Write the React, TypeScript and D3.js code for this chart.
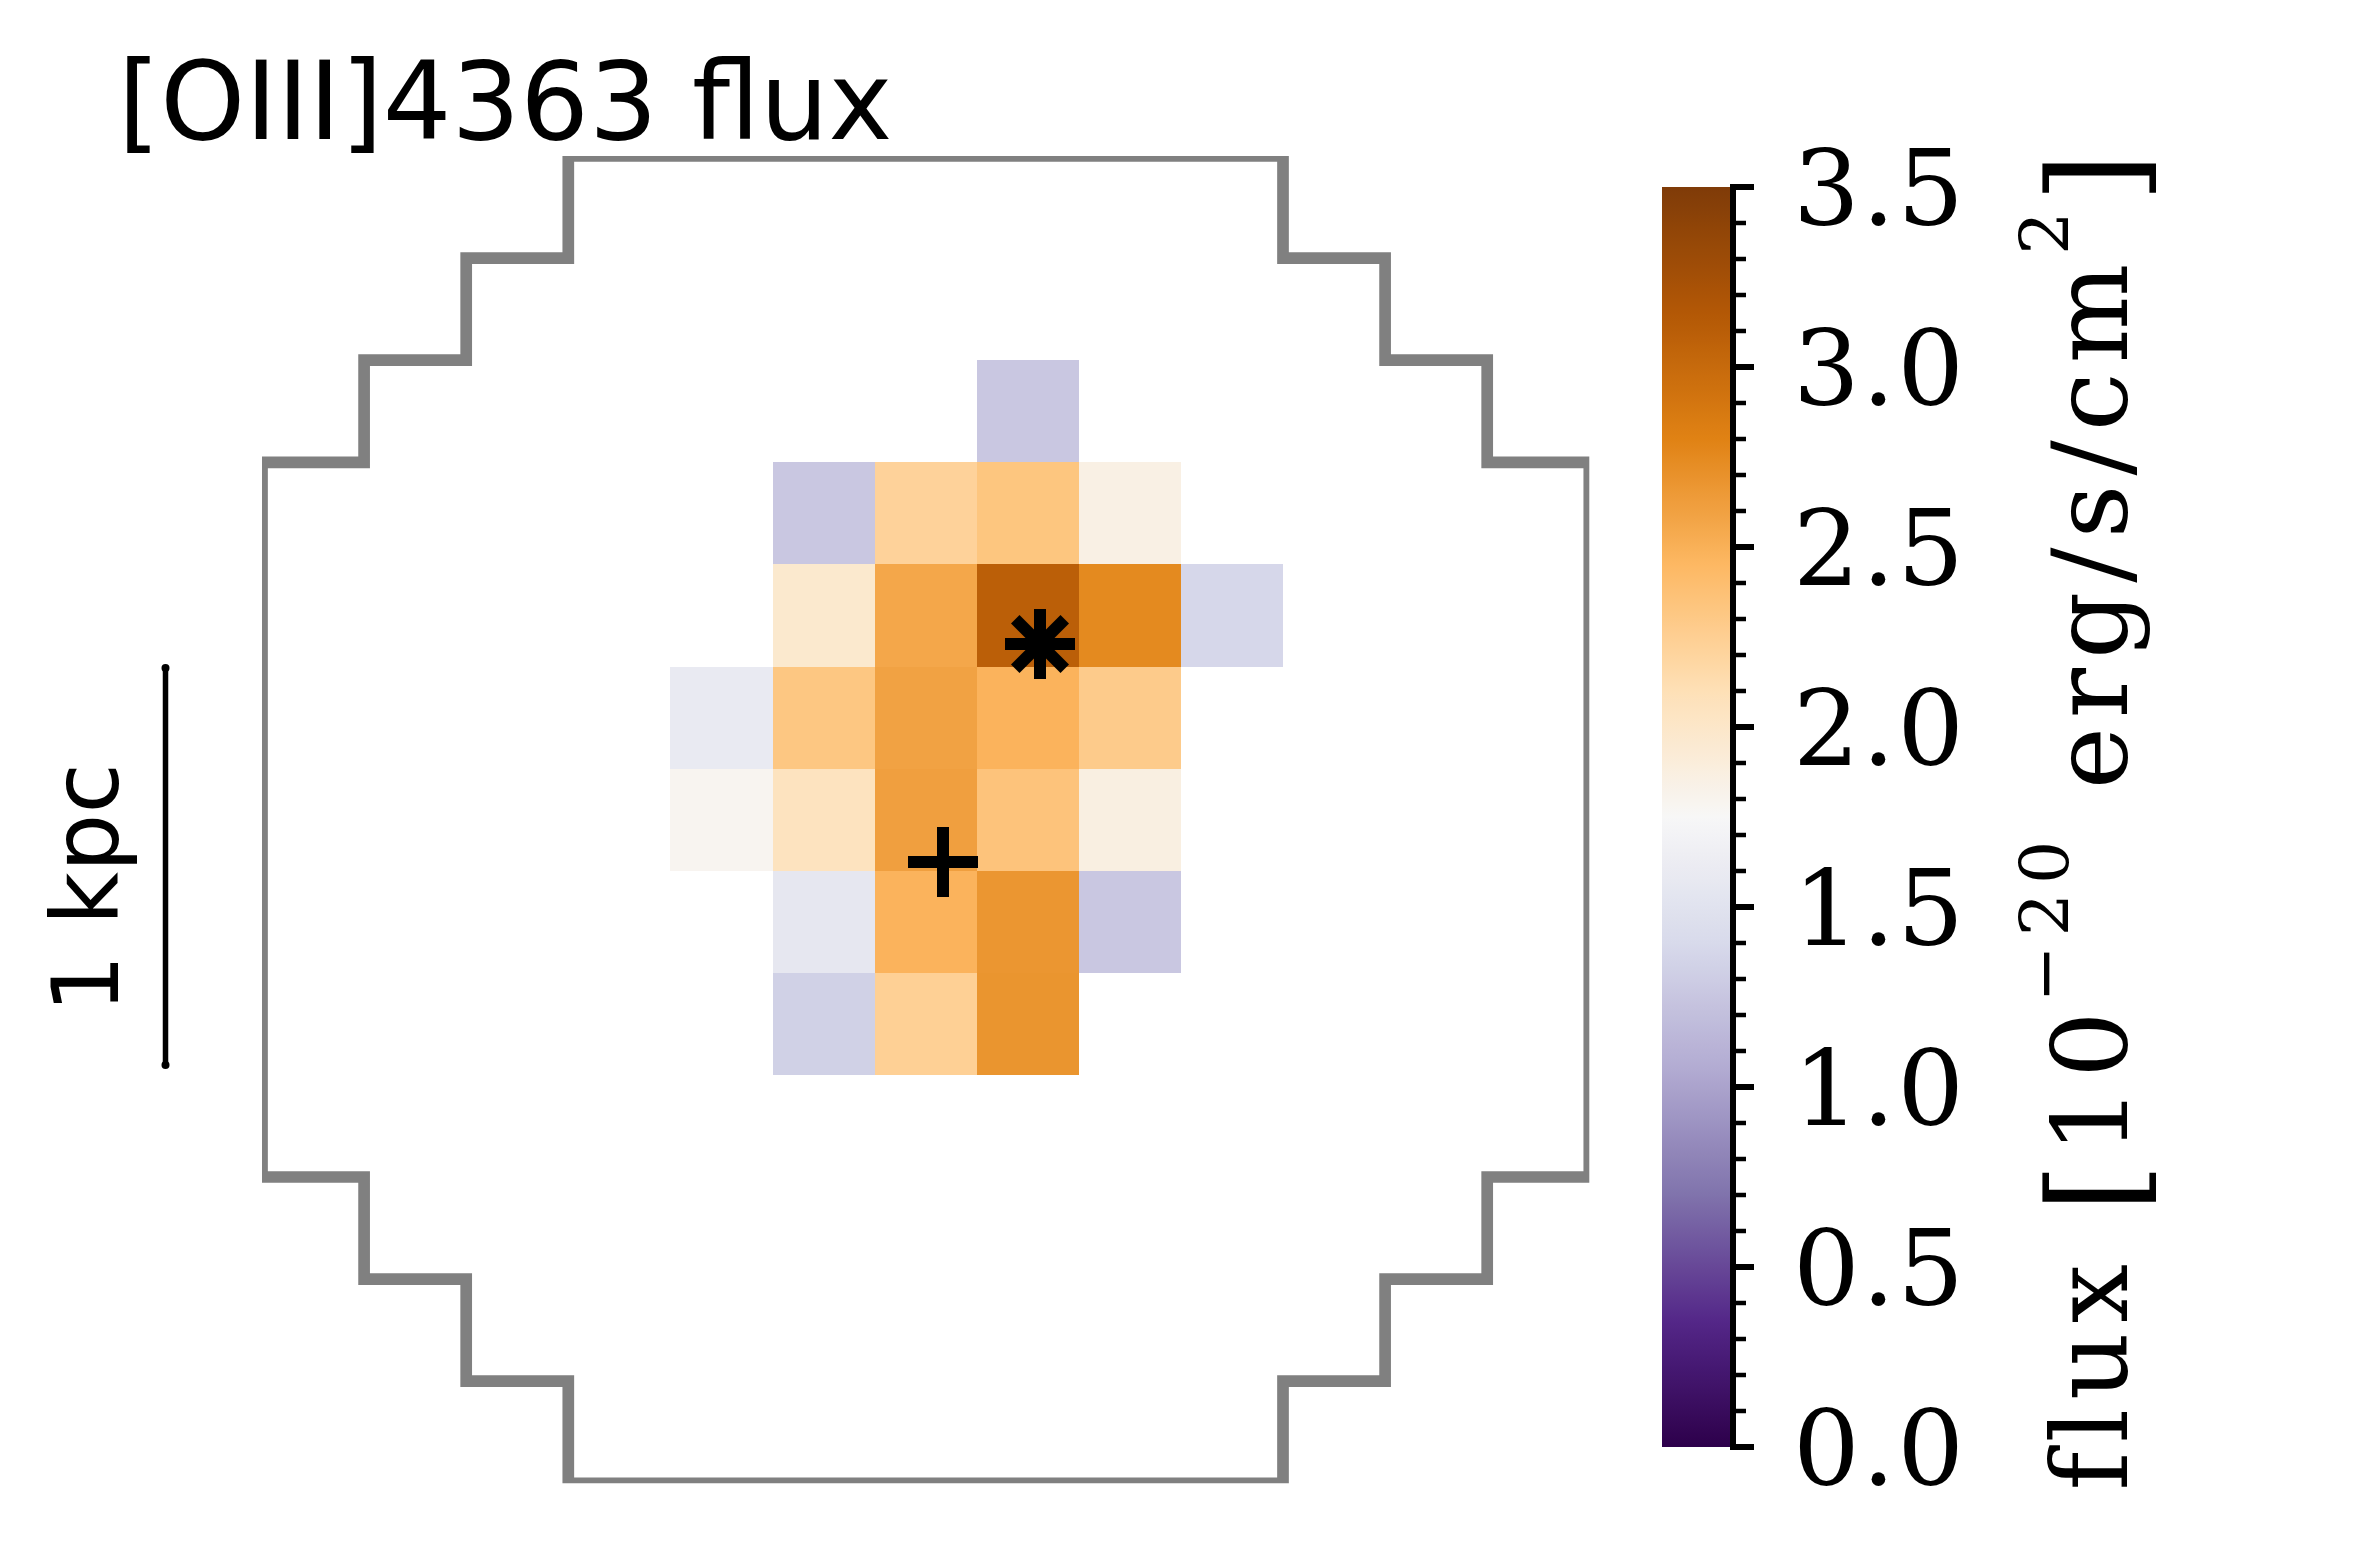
import React from "react";
import * as d3 from "d3";

// ---- data ----
const gridCols = [4, 5, 6, 7, 8, 9];
const gridRows = [2, 3, 4, 5, 6, 7, 8];
const row2 = [null, null, null, 1.26, null, null];
const row3 = [null, 1.26, 2.22, 2.33, 1.85, null];
const row4 = [null, 1.97, 2.56, 3.09, 2.75, 1.38];
const row5 = [1.59, 2.32, 2.59, 2.48, 2.28, null];
const row6 = [1.79, 2.05, 2.61, 2.35, 1.87, null];
const row7 = [null, 1.56, 2.48, 2.67, 1.26, null];
const row8 = [null, 1.33, 2.24, 2.68, null, null];
const fluxRows = [row2, row3, row4, row5, row6, row7, row8];

const outline: [number, number][] = [
  [3, 0], [10, 0], [10, 1], [11, 1], [11, 2], [12, 2], [12, 3], [13, 3],
  [13, 10], [12, 10], [12, 11], [11, 11], [11, 12], [10, 12], [10, 13],
  [3, 13], [3, 12], [2, 12], [2, 11], [1, 11], [1, 10], [0, 10], [0, 3],
  [1, 3], [1, 2], [2, 2], [2, 1], [3, 1],
];
const starMarker = { col: 7.62, row: 4.78 };
const plusMarker = { col: 6.67, row: 6.915 };

const cbMin = 0;
const cbMax = 3.5;
const majorTicks = [0, 0.5, 1.0, 1.5, 2.0, 2.5, 3.0, 3.5];
const minorTicks = d3.range(0, 36).map((i) => i / 10);

const puorR = [
  "#2d004b", "#542788", "#8073ac", "#b2abd2", "#d8daeb", "#f7f7f7",
  "#fee0b6", "#fdb863", "#e08214", "#b35806", "#7f3b08",
];

const title = "[OIII]4363 flux";
const scaleLabel = "1 kpc";

export default function App() {
  const W = 2374, H = 1562;
  const cell = 102.1;
  const ax0 = 262, ay0 = 156;
  const x = d3.scaleLinear().domain([0, 13]).range([ax0, ax0 + 13 * cell]);
  const y = d3.scaleLinear().domain([0, 13]).range([ay0, ay0 + 13 * cell]);

  const color = d3
    .scaleLinear<string>()
    .domain(puorR.map((_, i) => cbMin + (i / (puorR.length - 1)) * (cbMax - cbMin)))
    .range(puorR)
    .interpolate(d3.interpolateRgb);

  const cbX0 = 1662, cbX1 = 1730;
  const cbY = d3.scaleLinear().domain([cbMin, cbMax]).range([1447, 187]);

  const line = d3.line<[number, number]>().x((d) => x(d[0])).y((d) => y(d[1]));
  const outlinePath = line(outline) + "Z";

  const stops = d3.range(0, 101).map((i) => i / 100);

  const sx = x(starMarker.col), sy = y(starMarker.row);
  const px = x(plusMarker.col), py = y(plusMarker.row);
  const arm = 35;

  return (
    <svg width={W} height={H} style={{ position: "absolute", left: 0, top: 0, background: "#fff" }}>
      <defs>
        <clipPath id="axclip">
          <rect x={x(0)} y={y(0)} width={x(13) - x(0)} height={y(13) - y(0)} />
        </clipPath>
        <linearGradient id="cbgrad" x1="0" y1="1" x2="0" y2="0">
          {stops.map((t) => (
            <stop key={t} offset={t} stopColor={color(cbMin + t * (cbMax - cbMin))} />
          ))}
        </linearGradient>
      </defs>
      <rect width={W} height={H} fill="#fff" />

      {/* image cells */}
      <g clipPath="url(#axclip)">
        {fluxRows.map((r, ri) =>
          r.map((v, ci) =>
            v == null ? null : (
              <rect
                key={`${ri}-${ci}`}
                x={x(gridCols[ci])}
                y={y(gridRows[ri])}
                width={x(gridCols[ci] + 1) - x(gridCols[ci])}
                height={y(gridRows[ri] + 1) - y(gridRows[ri])}
                fill={color(v)}
                shapeRendering="crispEdges"
              />
            )
          )
        )}
        <path d={outlinePath} fill="none" stroke="#808080" strokeWidth={11.7} strokeLinejoin="miter" />
      </g>

      {/* markers */}
      <g stroke="#000" strokeWidth={12} strokeLinecap="butt">
        {[0, 45, 90, 135].map((a) => {
          const r = (a * Math.PI) / 180;
          return (
            <line key={a} x1={sx - arm * Math.cos(r)} y1={sy - arm * Math.sin(r)} x2={sx + arm * Math.cos(r)} y2={sy + arm * Math.sin(r)} />
          );
        })}
        <line x1={px - arm} y1={py} x2={px + arm} y2={py} />
        <line x1={px} y1={py - arm} x2={px} y2={py + arm} />
      </g>

      {/* title */}
      <text x={118} y={139} fontFamily="DejaVu Sans" fontSize={108} fill="#000">{title}</text>

      {/* scale bar */}
      <line x1={165.5} y1={668} x2={165.5} y2={1065} stroke="#000" strokeWidth={5.5} />
      <circle cx={165.5} cy={668} r={4} fill="#000" />
      <circle cx={165.5} cy={1065} r={4} fill="#000" />
      <text transform="translate(118,888) rotate(-90)" textAnchor="middle" fontFamily="DejaVu Sans" fontSize={92} fill="#000">{scaleLabel}</text>

      {/* colorbar */}
      <rect x={cbX0} y={cbY(cbMax)} width={cbX1 - cbX0} height={cbY(cbMin) - cbY(cbMax)} fill="url(#cbgrad)" />
      <line x1={cbX1 + 3} y1={cbY(cbMax) - 3} x2={cbX1 + 3} y2={cbY(cbMin) + 3} stroke="#000" strokeWidth={6} />
      {minorTicks.map((t) => (
        <line key={"m" + t} x1={cbX1 + 3} x2={1746} y1={cbY(t)} y2={cbY(t)} stroke="#000" strokeWidth={4.5} />
      ))}
      {majorTicks.map((t) => (
        <g key={"M" + t}>
          <line x1={cbX1 + 3} x2={1754} y1={cbY(t)} y2={cbY(t)} stroke="#000" strokeWidth={6} />
          <text x={1793} y={cbY(t) + 38} fontFamily="DejaVu Serif" fontSize={105} fill="#000" letterSpacing={2}>
            {t.toFixed(1)}
          </text>
        </g>
      ))}
      <text transform={`translate(2127,${(cbY(cbMin) + cbY(cbMax)) / 2}) rotate(-90)`} textAnchor="middle" fontFamily="DejaVu Serif" fontSize={105} fill="#000" letterSpacing={9}>
        <tspan>flux </tspan>
        <tspan fontSize={128} dy={12}>[</tspan>
        <tspan dy={-12}>10</tspan>
        <tspan fontSize={68} dy={-59}>−20</tspan>
        <tspan dy={59}> erg/s/cm</tspan>
        <tspan fontSize={68} dy={-59}>2</tspan>
        <tspan fontSize={128} dy={71}>]</tspan>
      </text>
    </svg>
  );
}
